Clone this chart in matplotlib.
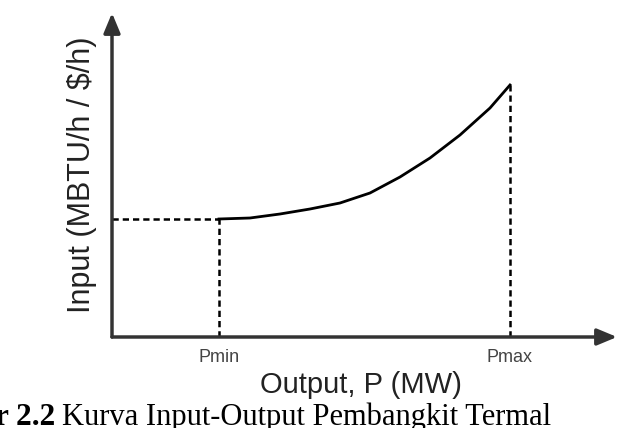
import matplotlib.pyplot as plt

# values (axes units, origin at the corner of the axes)
p_min = 107
p_max = 398
input_at_pmin = 118
output_mw = [107, 138, 168, 198, 228, 258, 288, 318, 348, 378, 398]
input_cost = [118, 119, 123, 128, 134, 144, 160, 179, 202, 229, 252]
tick_names = ['Pmin', 'Pmax']
x_end = 505
y_end = 324

fig = plt.figure(figsize=(6.25, 4.28), dpi=100)
ax = fig.add_axes([112/625, 91/428, 505/625, 324/428])
ax.set_xlim(0, x_end)
ax.set_ylim(0, y_end)
for s in ax.spines.values():
	s.set_visible(False)

#the two axes with arrow heads
arrow = dict(arrowstyle='-|>,head_length=1.2,head_width=0.5', lw=2.5, color='#333333',
	shrinkA=0, shrinkB=0, mutation_scale=10)
ax.annotate('', xy=(x_end, 0), xytext=(0, 0), arrowprops=arrow, annotation_clip=False)
ax.annotate('', xy=(0, y_end), xytext=(0, 0), arrowprops=arrow, annotation_clip=False)

#dashed guide lines
dash = (0, (2.5, 1.6))
ax.plot([0, p_min], [input_at_pmin, input_at_pmin], color='black', lw=1.8, ls=dash)
ax.plot([p_min, p_min], [0, input_at_pmin], color='black', lw=1.8, ls=dash)
ax.plot([p_max, p_max], [0, input_cost[-1]], color='black', lw=1.8, ls=dash)

#input-output curve
ax.plot(output_mw, input_cost, color='black', lw=2, solid_joinstyle='round')

ax.set_xticks([p_min, p_max], tick_names, fontsize=13, color='#444444', family='Liberation Sans')
ax.tick_params(axis='x', length=0, pad=9)
ax.set_yticks([])

fig.text(361/625, 1 - 393/428, 'Output, P (MW)', fontsize=21, family='Liberation Sans',
	color='#222222', ha='center', va='baseline')
fig.text(82/625, 1 - 175/428, 'Input (MBTU/h / $/h)', fontsize=22, family='Liberation Sans',
	color='#222222', ha='center', va='center', rotation=90)

#caption (cut at the left edge in the picture)
fig.text(-5/625, 3/428, 'r 2.2', fontsize=22.5, family='Liberation Serif', weight='bold', va='baseline')
fig.text(62/625, 3/428, 'Kurva Input-Output Pembangkit Termal', fontsize=22,
	family='Liberation Serif', va='baseline')

fig.savefig('out.png', dpi=100)
